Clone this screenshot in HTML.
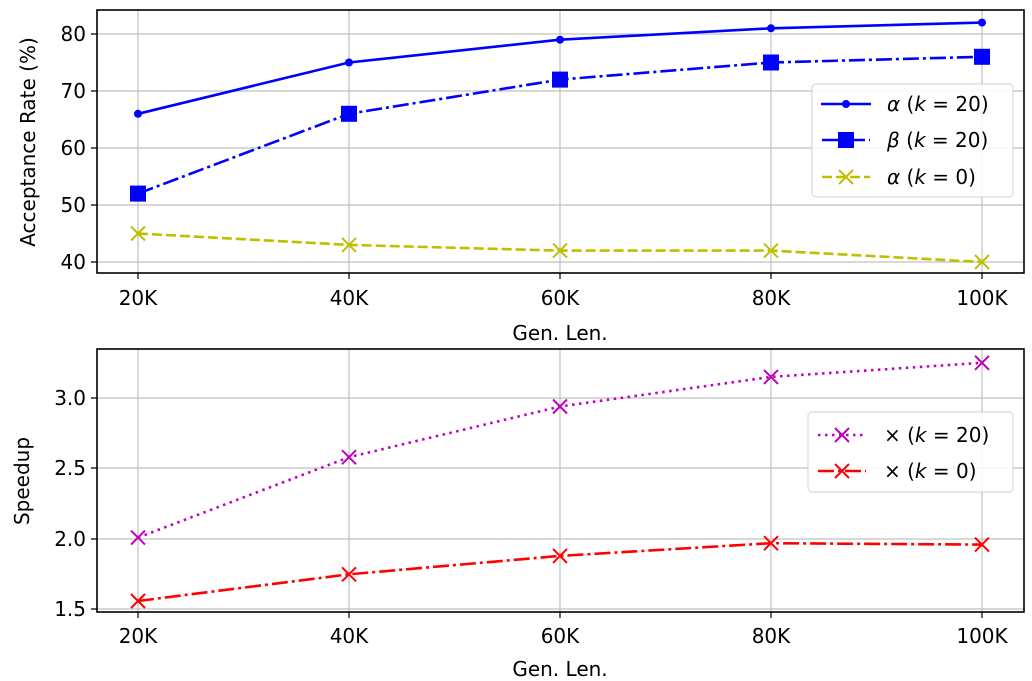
<!DOCTYPE html><html><head><style>body{margin:0;background:#fff}svg{display:block}text{font-family:"DejaVu Sans","Liberation Sans",sans-serif;font-size:20px;fill:#000}</style></head><body>
<svg width="1032" height="681" viewBox="0 0 1032 681">
<g stroke="#c0c0c0" stroke-width="1.2">
<line x1="138" y1="10" x2="138" y2="273"/><line x1="349" y1="10" x2="349" y2="273"/><line x1="560" y1="10" x2="560" y2="273"/><line x1="771" y1="10" x2="771" y2="273"/><line x1="982" y1="10" x2="982" y2="273"/>
<line x1="97" y1="34" x2="1024" y2="34"/><line x1="97" y1="91" x2="1024" y2="91"/><line x1="97" y1="148" x2="1024" y2="148"/><line x1="97" y1="205" x2="1024" y2="205"/><line x1="97" y1="262" x2="1024" y2="262"/>
<line x1="138" y1="349" x2="138" y2="612"/><line x1="349" y1="349" x2="349" y2="612"/><line x1="560" y1="349" x2="560" y2="612"/><line x1="771" y1="349" x2="771" y2="612"/><line x1="982" y1="349" x2="982" y2="612"/>
<line x1="97" y1="398" x2="1024" y2="398"/><line x1="97" y1="468" x2="1024" y2="468"/><line x1="97" y1="539" x2="1024" y2="539"/><line x1="97" y1="609" x2="1024" y2="609"/>
</g>
<polyline fill="none" stroke="#0000ff" stroke-width="2.6" points="138,113.8 349,62.5 560,39.7 771,28.3 982,22.6"/>
<g fill="#0000ff"><circle cx="138" cy="113.8" r="4"/><circle cx="349" cy="62.5" r="4"/><circle cx="560" cy="39.7" r="4"/><circle cx="771" cy="28.3" r="4"/><circle cx="982" cy="22.6" r="4"/></g>
<polyline fill="none" stroke="#0000ff" stroke-width="2.6" stroke-dasharray="16,4,3,4" points="138,193.6 349,113.8 560,79.6 771,62.5 982,56.8"/>
<g fill="#0000ff"><rect x="130" y="185.6" width="16" height="16"/><rect x="341" y="105.8" width="16" height="16"/><rect x="552" y="71.6" width="16" height="16"/><rect x="763" y="54.5" width="16" height="16"/><rect x="974" y="48.8" width="16" height="16"/></g>
<polyline fill="none" stroke="#bfbf00" stroke-width="2.6" stroke-dasharray="10,4" points="138,233.5 349,244.9 560,250.6 771,250.6 982,262"/>
<g stroke="#bfbf00" stroke-width="2"><path d="M131,226.5l14,14M145,226.5l-14,14M342,237.9l14,14M356,237.9l-14,14M553,243.6l14,14M567,243.6l-14,14M764,243.6l14,14M778,243.6l-14,14M975,255l14,14M989,255l-14,14"/></g>
<polyline fill="none" stroke="#bf00bf" stroke-width="2.6" stroke-dasharray="2.5,4.5" points="138,537.6 349,457.2 560,406.5 771,376.9 982,362.8"/>
<g stroke="#bf00bf" stroke-width="2"><path d="M131,530.6l14,14M145,530.6l-14,14M342,450.2l14,14M356,450.2l-14,14M553,399.5l14,14M567,399.5l-14,14M764,369.9l14,14M778,369.9l-14,14M975,355.8l14,14M989,355.8l-14,14"/></g>
<polyline fill="none" stroke="#ff0000" stroke-width="2.6" stroke-dasharray="16,4,3,4" points="138,601 349,574.3 560,555.9 771,543.2 982,544.6"/>
<g stroke="#ff0000" stroke-width="2"><path d="M131,594l14,14M145,594l-14,14M342,567.3l14,14M356,567.3l-14,14M553,548.9l14,14M567,548.9l-14,14M764,536.2l14,14M778,536.2l-14,14M975,537.6l14,14M989,537.6l-14,14"/></g>
<rect x="97" y="10" width="927" height="263" fill="none" stroke="#000" stroke-width="1.6"/>
<rect x="97" y="349" width="927" height="263" fill="none" stroke="#000" stroke-width="1.6"/>
<g stroke="#000" stroke-width="1.2">
<path d="M138,273v6M349,273v6M560,273v6M771,273v6M982,273v6M91,34h6M91,91h6M91,148h6M91,205h6M91,262h6"/>
<path d="M138,612v6M349,612v6M560,612v6M771,612v6M982,612v6M91,398h6M91,468h6M91,539h6M91,609h6"/>
</g>
<g text-anchor="middle">
<text x="138" y="305">20K</text><text x="349" y="305">40K</text><text x="560" y="305">60K</text><text x="771" y="305">80K</text><text x="982" y="305">100K</text>
<text x="560" y="340">Gen. Len.</text>
<text x="138" y="643">20K</text><text x="349" y="643">40K</text><text x="560" y="643">60K</text><text x="771" y="643">80K</text><text x="982" y="643">100K</text>
<text x="560" y="676">Gen. Len.</text>
</g>
<g text-anchor="end">
<text x="86" y="41">80</text><text x="86" y="98">70</text><text x="86" y="155">60</text><text x="86" y="212">50</text><text x="86" y="269">40</text>
<text x="86" y="405">3.0</text><text x="86" y="475">2.5</text><text x="86" y="546">2.0</text><text x="86" y="616">1.5</text>
</g>
<text transform="translate(35,142) rotate(-90)" text-anchor="middle">Acceptance Rate (%)</text>
<text transform="translate(29,481) rotate(-90)" text-anchor="middle">Speedup</text>
<rect x="812" y="84" width="201" height="113" rx="4" fill="#fff" fill-opacity="0.85" stroke="#d0d0d0"/>
<line x1="821" y1="104" x2="871" y2="104" stroke="#0000ff" stroke-width="2.6"/><circle cx="846" cy="104" r="4" fill="#0000ff"/>
<line x1="822" y1="140" x2="870" y2="140" stroke="#0000ff" stroke-width="2.6" stroke-dasharray="16,4,3,4"/><rect x="838" y="132" width="16" height="16" fill="#0000ff"/>
<line x1="822" y1="177" x2="870" y2="177" stroke="#bfbf00" stroke-width="2.6" stroke-dasharray="10,4"/><path d="M839,170l14,14M853,170l-14,14" stroke="#bfbf00" stroke-width="2"/>
<text x="887" y="111"><tspan font-style="italic">α</tspan> (<tspan font-style="italic">k</tspan> = 20)</text>
<text x="887" y="147"><tspan font-style="italic">β</tspan> (<tspan font-style="italic">k</tspan> = 20)</text>
<text x="887" y="184"><tspan font-style="italic">α</tspan> (<tspan font-style="italic">k</tspan> = 0)</text>
<rect x="808" y="412" width="205" height="80" rx="4" fill="#fff" fill-opacity="0.85" stroke="#d0d0d0"/>
<line x1="818" y1="435" x2="866" y2="435" stroke="#bf00bf" stroke-width="2.6" stroke-dasharray="2.5,4.5"/><path d="M835,428l14,14M849,428l-14,14" stroke="#bf00bf" stroke-width="2"/>
<line x1="818" y1="471" x2="866" y2="471" stroke="#ff0000" stroke-width="2.6" stroke-dasharray="16,4,3,4"/><path d="M835,464l14,14M849,464l-14,14" stroke="#ff0000" stroke-width="2"/>
<text x="884" y="442">× (<tspan font-style="italic">k</tspan> = 20)</text>
<text x="884" y="478">× (<tspan font-style="italic">k</tspan> = 0)</text>
</svg></body></html>
